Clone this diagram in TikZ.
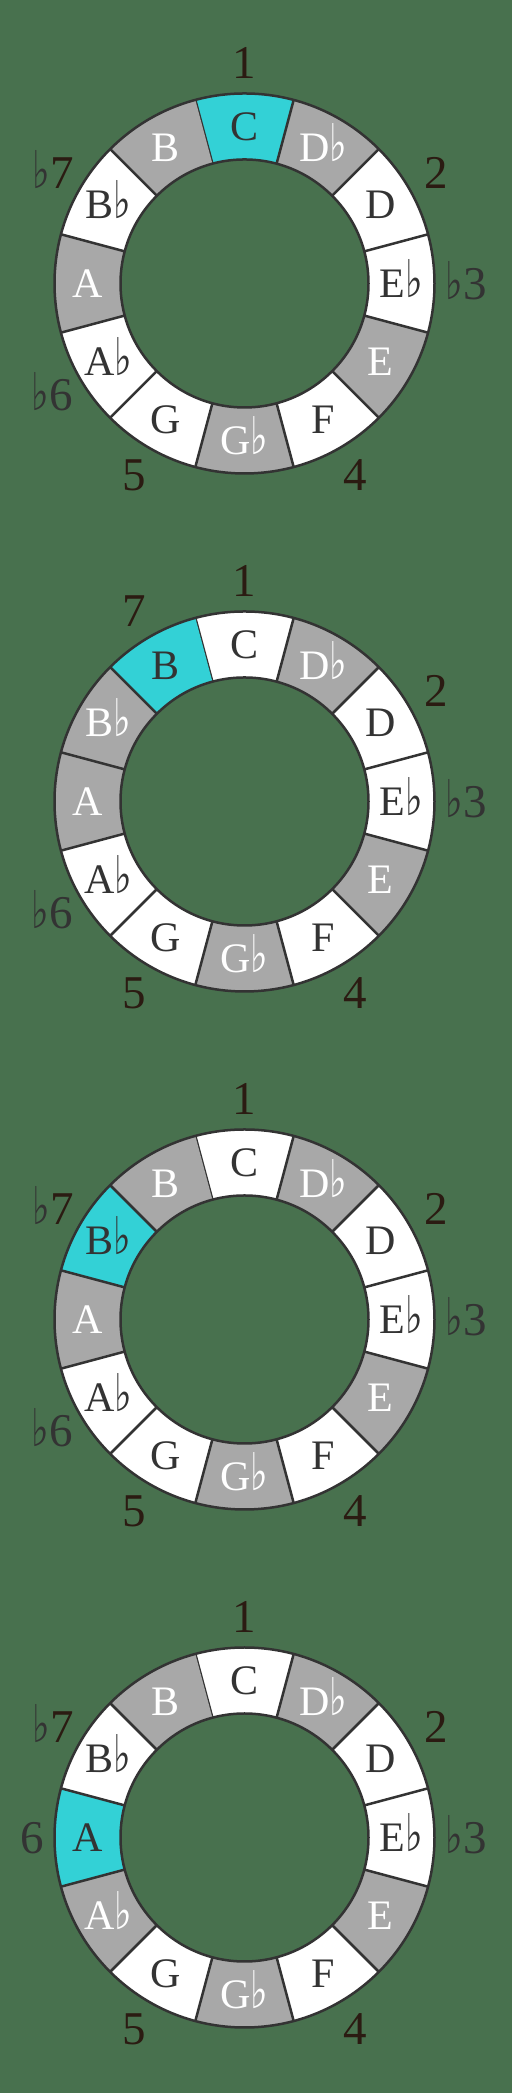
\documentclass[tikz,border=0pt]{standalone}
\usepackage{fontspec}
\usepackage{graphicx}
\setmainfont{Liberation Serif}
\newfontfamily\symf{DejaVu Sans}
\usetikzlibrary{calc}
\definecolor{bg}{HTML}{48714E}
\definecolor{segGray}{HTML}{A8A8A8}
\definecolor{segCyan}{HTML}{33D1D6}
\definecolor{ink}{HTML}{333333}
\definecolor{deg}{HTML}{2B1B12}
\newcommand\fl{\scalebox{0.72}[1]{\symf\fontsize{52}{42}\selectfont ♭}}
\newcommand\dfl{{\color{ink}\fl}}
\tikzset{
 segw/.style={fill=white}, segg/.style={fill=segGray}, segc/.style={fill=segCyan},
 txtw/.style={text=ink}, txtg/.style={text=white}, txtc/.style={text=ink},
 notetxt/.style={inner sep=0pt, font=\fontsize{42}{42}\selectfont},
 degtxt/.style={inner sep=0pt, font=\fontsize{47}{47}\selectfont, text=deg},
 ringline/.style={draw=ink, line width=2.5pt},
}
\newcommand\notename[1]{\ifcase#1 C\or D\fl\or D\or E\fl\or E\or F\or G\fl\or G\or A\fl\or A\or B\fl\or B\fi}
\newcommand\noteRing[4]{%
 \coordinate (#1) at (244.5pt,#2pt);
 \foreach \s [count=\k from 0] in {#3} {
   \pgfmathsetmacro\a{90-30*\k}
   \fill[seg\s] ($(#1)+(\a-15:190pt)$) arc[start angle=\a-15, end angle=\a+15, radius=190pt]
     -- ($(#1)+(\a+15:124pt)$) arc[start angle=\a+15, end angle=\a-15, radius=124pt] -- cycle;
   \node[notetxt, txt\s, text height=28pt, text depth=0pt] (#1-n\k) at ($(#1)+(\a:157pt)$) {\notename{\k}};
   \draw[ringline] ($(#1)+(\a+15:124pt)$) -- ($(#1)+(\a+15:190pt)$);
 }
 \draw[ringline] (#1) circle[radius=190pt];
 \draw[ringline] (#1) circle[radius=124pt];
 \foreach \ang/\lab/\r [count=\j] in {#4} {
   \node[degtxt, text height=32pt, text depth=0pt] (#1-d\j) at ($(#1)+(\ang:\r pt)$) {\lab};
 }
}
\begin{document}
\begin{tikzpicture}
\useasboundingbox (0pt,0pt) rectangle (512pt,2093pt);
\fill[bg] (0pt,0pt) rectangle (512pt,2093pt);
\noteRing{r1}{1809.5}{c,g,w,w,g,w,g,w,w,g,w,g}{90/1/221, 30/2/221, 0/{\color{ink}\fl 3}/222, -60/4/221, -120/5/221, -150/{\color{ink}\fl 6}/222, 150/{\dfl 7}/221}
\noteRing{r2}{1291.5}{w,g,w,w,g,w,g,w,w,g,g,c}{90/1/221, 120/7/221, 30/2/221, 0/{\color{ink}\fl 3}/222, -60/4/221, -120/5/221, -150/{\color{ink}\fl 6}/222}
\noteRing{r3}{773.5}{w,g,w,w,g,w,g,w,w,g,c,g}{90/1/221, 30/2/221, 0/{\color{ink}\fl 3}/222, -60/4/221, -120/5/221, -150/{\color{ink}\fl 6}/222, 150/{\dfl 7}/221}
\noteRing{r4}{255.5}{w,g,w,w,g,w,g,w,g,c,w,g}{90/1/221, 30/2/221, 0/{\color{ink}\fl 3}/222, -60/4/221, -120/5/221, 180/{\color{ink}6}/212, 150/{\dfl 7}/221}
\end{tikzpicture}
\end{document}
